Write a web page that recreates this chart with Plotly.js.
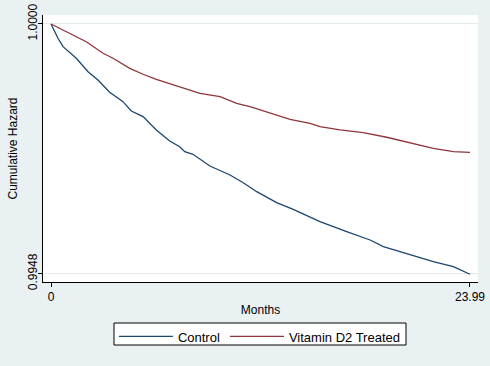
<!DOCTYPE html>
<html>
<head>
<meta charset="utf-8">
<script src="https://cdn.plot.ly/plotly-3.0.1.min.js"></script>
<style>html,body{margin:0;padding:0;background:#eaf1f3;}</style>
</head>
<body>
<div id="chart" style="width:490px;height:366px;"></div>
<script>
// Control (blue) curve
const controlMonths = [0, 0.40, 0.69, 1.45, 2.12, 2.69, 3.36, 4.12, 4.60, 5.27, 6.03, 6.80, 7.37, 7.66, 8.13, 9.10, 10.25, 11.01, 11.78, 12.92, 13.87, 15.40, 16.93, 18.27, 19.03, 20.37, 21.89, 23.04, 23.99];
const controlHazard = [1.0, 0.999702, 0.999527, 0.999286, 0.999007, 0.998834, 0.998578, 0.998382, 0.998188, 0.998070, 0.997793, 0.997564, 0.997445, 0.997341, 0.997287, 0.997043, 0.996855, 0.996695, 0.996508, 0.996279, 0.996141, 0.995883, 0.995675, 0.995502, 0.995362, 0.995210, 0.995050, 0.994946, 0.994788];
// Vitamin D2 Treated (red) curve
const treatedMonths = [0, 1.26, 2.02, 2.98, 3.55, 4.51, 5.27, 6.03, 6.99, 8.13, 8.53, 9.68, 10.63, 11.39, 12.54, 13.69, 14.83, 15.40, 16.55, 17.88, 19.22, 20.56, 21.89, 23.04, 23.99];
const treatedHazard = [1.0, 0.999771, 0.999631, 0.999390, 0.999286, 0.999077, 0.998953, 0.998848, 0.998730, 0.998605, 0.998557, 0.998486, 0.998349, 0.998278, 0.998140, 0.998015, 0.997932, 0.997861, 0.997793, 0.997736, 0.997641, 0.997528, 0.997411, 0.997341, 0.997328];
const seriesNames = ["Control", "Vitamin D2 Treated"];
const xTickVals = [0, 23.99];
const xTickText = ["0", "23.99"];
const yTickVals = [0.9948, 1.0];
const yTickText = ["0.9948", "1.0000"];

const font = "Liberation Sans, Arial, sans-serif";
const traces = [
  {x: controlMonths, y: controlHazard, name: seriesNames[0], type: "scatter", mode: "lines",
   line: {color: "#1a476f", width: 1.3}},
  {x: treatedMonths, y: treatedHazard, name: seriesNames[1], type: "scatter", mode: "lines",
   line: {color: "#90353b", width: 1.3}}
];
const layout = {
  width: 490, height: 366,
  paper_bgcolor: "#eaf1f3", plot_bgcolor: "#ffffff",
  margin: {l: 43, r: 12, t: 15, b: 84, pad: 0},
  font: {family: font, size: 12, color: "#000"},
  showlegend: true,
  legend: {orientation: "h", x: 0.163, xanchor: "left", y: -0.148, yanchor: "top",
           bgcolor: "rgba(0,0,0,0)", borderwidth: 0,
           font: {family: font, size: 13, color: "#000"}, itemwidth: 54, traceorder: "normal"},
  shapes: [{type: "rect", xref: "paper", yref: "paper", x0: 0.1632, x1: 0.8345, y0: -0.236, y1: -0.1536,
            fillcolor: "#ffffff", line: {color: "#000", width: 1}, layer: "above"}],
  xaxis: {range: [-0.458, 24.45], tickvals: xTickVals, ticktext: xTickText,
          showgrid: false, zeroline: false, showline: true, linecolor: "#000", linewidth: 1,
          ticks: "outside", ticklen: 4, tickcolor: "#000", tickfont: {size: 12},
          title: {text: "Months", font: {size: 12}, standoff: 2}, automargin: false},
  yaxis: {range: [0.994627, 1.000187], tickvals: yTickVals, ticktext: yTickText, tickangle: -90,
          showgrid: true, gridcolor: "#e3eaee", gridwidth: 1, zeroline: false,
          showline: true, linecolor: "#000", linewidth: 1, ticklabelstandoff: -4,
          ticks: "outside", ticklen: 4, tickcolor: "#000", tickfont: {size: 12},
          title: {text: "Cumulative Hazard", font: {size: 12}, standoff: 6}, automargin: false}
};
Plotly.newPlot("chart", traces, layout, {displayModeBar: false, staticPlot: true});
</script>
</body>
</html>
